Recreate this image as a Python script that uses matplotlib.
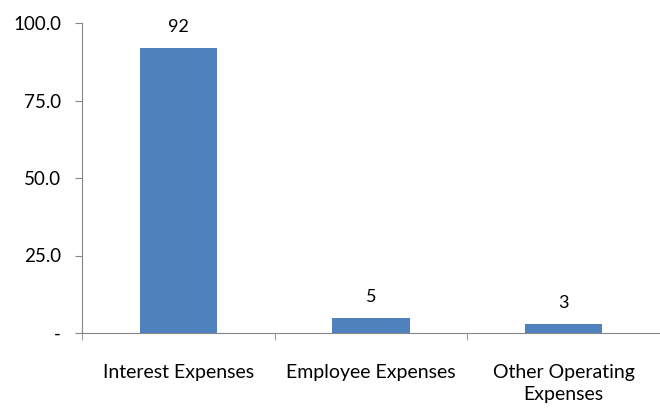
import matplotlib.pyplot as plt
from matplotlib.ticker import FixedLocator, FuncFormatter

categories = ['Interest Expenses', 'Employee Expenses', 'Other Operating\nExpenses']
values = [92, 5, 3]
yticks = [0, 25, 50, 75, 100]

plt.rcParams['font.family'] = ['Lato', 'DejaVu Sans']

fig = plt.figure(figsize=(6.6, 4.08), dpi=100)
ax = fig.add_axes([82 / 660, 75 / 408, 578 / 660, 310 / 408])

x = range(len(categories))
bars = ax.bar(x, values, width=0.4, color='#4F81BD')
for b, v in zip(bars, values):
    ax.text(b.get_x() + b.get_width() / 2, v + 4, str(v), ha='center', va='bottom', fontsize=13)

ax.set_xlim(-0.5, len(categories) - 0.5)
ax.set_ylim(0, 100)
ax.set_yticks(yticks)
ax.yaxis.set_major_formatter(FuncFormatter(lambda v, p: '-' if v == 0 else f'{v:.1f}'))

ax.set_xticks(list(x))
ax.set_xticklabels(categories, fontsize=14, linespacing=1.4)
ax.xaxis.set_minor_locator(FixedLocator([-0.5, 0.5, 1.5, 2.5]))
ax.tick_params(axis='x', which='major', length=0, pad=22)
ax.tick_params(axis='x', which='minor', length=5, color='#868686')
ax.tick_params(axis='y', length=5, color='#868686', labelsize=13.5, pad=10)

for s in ['top', 'right']:
    ax.spines[s].set_visible(False)
for s in ['left', 'bottom']:
    ax.spines[s].set_color('#868686')

fig.savefig('out.png', dpi=100)
